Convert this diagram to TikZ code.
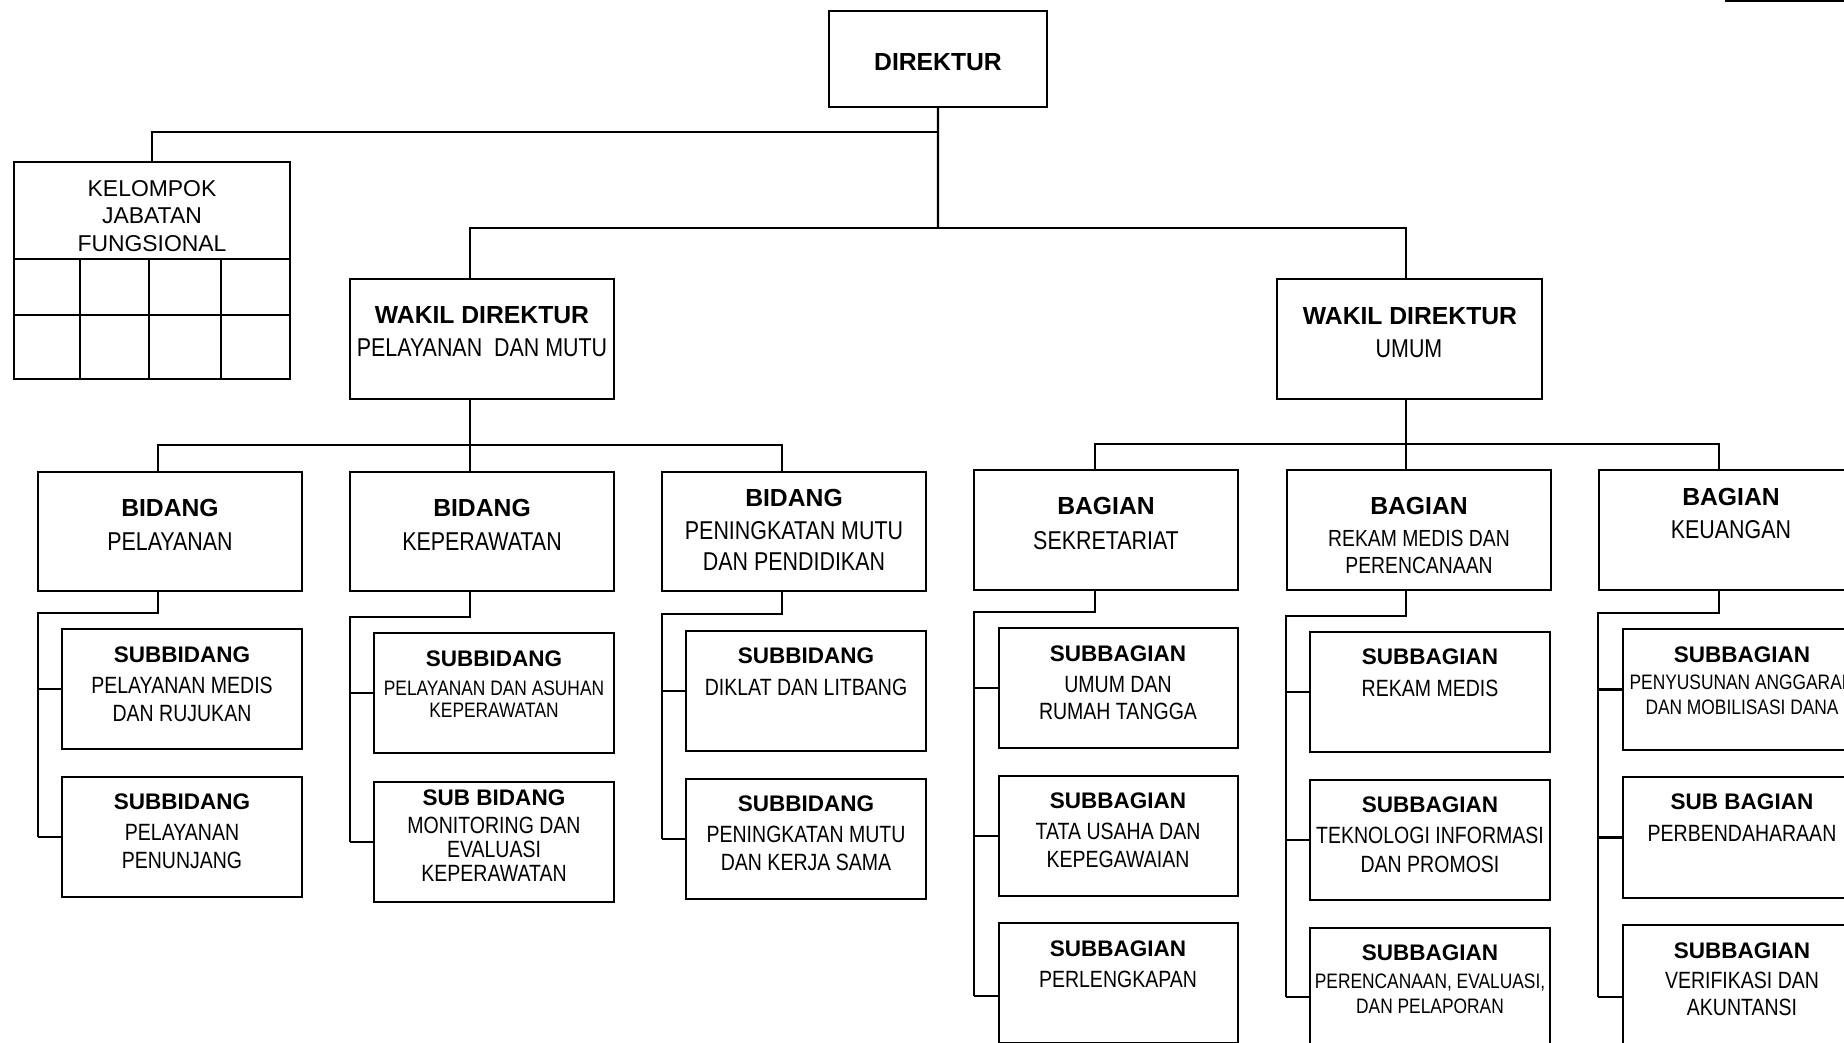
\documentclass[tikz,border=0pt]{standalone}
\usepackage{fontspec}
\setmainfont{Liberation Sans}
\newfontfamily\narrowf[FakeStretch=0.83]{Liberation Sans}
\usetikzlibrary{calc}
\tikzset{
  box/.style={draw, line width=2.2bp, inner sep=0pt, outer sep=0pt, rectangle},
  conn/.style={line width=2.2bp},
  hdA/.style={font=\bfseries\fontsize{24.8}{25}\selectfont, anchor=base, inner sep=0pt},
  hdB/.style={font=\bfseries\fontsize{22.6}{23}\selectfont, anchor=base, inner sep=0pt},
  nrA/.style={font=\narrowf\fontsize{25.9}{26}\selectfont, anchor=base, inner sep=0pt},
  nrB/.style={font=\narrowf\fontsize{23.6}{24}\selectfont, anchor=base, inner sep=0pt},
  nrR/.style={font=\narrowf\fontsize{23.4}{24}\selectfont, anchor=base, inner sep=0pt},
  nrC/.style={font=\narrowf\fontsize{21}{21}\selectfont, anchor=base, inner sep=0pt},
  kelt/.style={font=\fontsize{23}{23}\selectfont, anchor=base, inner sep=0pt},
}
\newcommand{\orgbox}[5]{\node[box, minimum width=#4bp, minimum height=#5bp, anchor=north west] (#1) at (#2,#3) {};}
\newcommand{\orgtxt}[5]{\node[#2] (#1) at (#3,#4) {#5};}
\begin{document}
\begin{tikzpicture}[x=1bp, y=-1bp]
\useasboundingbox (0,0) rectangle (1844,1042);
\clip (0,0) rectangle (1844,1042);

% ---------- boxes ----------
\orgbox{dir}{829}{11}{218}{96}
\orgbox{kel}{14}{162}{276}{217}
\orgbox{wdpm}{350}{279}{264}{120}
\orgbox{wdu}{1277}{279}{265}{120}

\orgbox{b1}{38}{472}{264}{119}
\orgbox{b2}{350}{472}{264}{119}
\orgbox{b3}{662}{472}{264}{119}
\orgbox{b4}{974}{470}{264}{120}
\orgbox{b5}{1287}{470}{264}{120}
\orgbox{b6}{1599}{470}{264}{120}

\orgbox{s11}{62}{629}{240}{120}
\orgbox{s12}{62}{777}{240}{120}
\orgbox{s21}{374}{633}{240}{120}
\orgbox{s22}{374}{782}{240}{120}
\orgbox{s31}{686}{631}{240}{120}
\orgbox{s32}{686}{779}{240}{120}
\orgbox{s41}{999}{628}{239}{120}
\orgbox{s42}{999}{776}{239}{120}
\orgbox{s43}{999}{923}{239}{120}
\orgbox{s51}{1310}{632}{240}{120}
\orgbox{s52}{1310}{780}{240}{120}
\orgbox{s53}{1310}{928}{240}{120}
\orgbox{s61}{1623}{629}{240}{121}
\orgbox{s62}{1623}{777}{240}{121}
\orgbox{s63}{1623}{925}{240}{121}

% Kelompok grid
\draw[conn] (kel.west |- 0,259) -- (kel.east |- 0,259);
\draw[conn] (kel.west |- 0,315) -- (kel.east |- 0,315);
\foreach \gx in {80,149,221} {\draw[conn] (\gx,259) -- (\gx,379);}

% ---------- top connectors ----------
\coordinate (jtop) at (938,228);
\coordinate (jkel) at (937,132);
\draw[conn] (dir.south) -- (jtop);
\draw[conn] (kel.north) |- (jkel);
\draw[conn] ($(wdpm.north west)+(120,0)$) |- (jtop) -| ($(wdu.north west)+(129,0)$);

% row connectors
\coordinate (hL) at (470,445);
\coordinate (hR) at (1406,444);
\draw[conn] ($(wdpm.south west)+(120,0)$) -- ($(b2.north west)+(120,0)$);
\draw[conn] ($(b1.north west)+(120,0)$) |- (hL) -| ($(b3.north west)+(120,0)$);
\draw[conn] ($(wdu.south west)+(129,0)$) -- ($(b5.north west)+(119,0)$);
\draw[conn] ($(b4.north west)+(121,0)$) |- (hR) -| ($(b6.north west)+(120,0)$);

% sub connectors column 1
\coordinate (v1) at (38,613);
\draw[conn] ($(b1.south west)+(120,0)$) |- (v1) -- (v1 |- s12.west);
\draw[conn] (v1 |- s11.west) -- (s11.west);
\draw[conn] (v1 |- s12.west) -- (s12.west);
% column 2
\coordinate (v2) at (350,617);
\draw[conn] ($(b2.south west)+(120,0)$) |- (v2) -- (v2 |- s22.west);
\draw[conn] (v2 |- s21.west) -- (s21.west);
\draw[conn] (v2 |- s22.west) -- (s22.west);
% column 3
\coordinate (v3) at (662,614);
\draw[conn] ($(b3.south west)+(120,0)$) |- (v3) -- (v3 |- s32.west);
\draw[conn] (v3 |- s31.west) -- (s31.west);
\draw[conn] (v3 |- s32.west) -- (s32.west);
% column 4
\coordinate (v4) at (974,612);
\coordinate (e4) at ($(s43.north west)+(0,73)$);
\draw[conn] ($(b4.south west)+(121,0)$) |- (v4) -- (v4 |- e4);
\draw[conn] (v4 |- s41.west) -- (s41.west);
\draw[conn] (v4 |- s42.west) -- (s42.west);
\draw[conn] (v4 |- e4) -- (e4);
% column 5
\coordinate (v5) at (1286,616);
\coordinate (e5) at ($(s53.north west)+(0,69)$);
\draw[conn] ($(b5.south west)+(119,0)$) |- (v5) -- (v5 |- e5);
\draw[conn] (v5 |- s51.west) -- (s51.west);
\draw[conn] (v5 |- s52.west) -- (s52.west);
\draw[conn] (v5 |- e5) -- (e5);
% column 6
\coordinate (v6) at (1598,613);
\coordinate (e6) at ($(s63.north west)+(0,72)$);
\draw[conn] ($(b6.south west)+(120,0)$) |- (v6) -- (v6 |- e6);
\draw[conn] (v6 |- s61.west) -- (s61.west);
\draw[conn] (v6 |- s62.west) -- (s62.west);
\draw[conn] (v6 |- e6) -- (e6);

% stray line at top right
\coordinate (tr1) at (1725,1);
\coordinate (tr2) at (1844,1);
\draw[conn] (tr1) -- (tr2);

% ---------- texts ----------
\orgtxt{tdir}{hdA}{938}{70}{DIREKTUR}
\orgtxt{tk1}{kelt}{152}{196}{KELOMPOK}
\orgtxt{tk2}{kelt}{152}{223}{JABATAN}
\orgtxt{tk3}{kelt}{152}{251}{FUNGSIONAL}

\orgtxt{tw1}{hdA}{482}{323}{WAKIL DIREKTUR}
\orgtxt{tw2}{nrA}{482}{356}{PELAYANAN\ \ DAN MUTU}
\orgtxt{tu1}{hdA}{1410}{324}{WAKIL DIREKTUR}
\orgtxt{tu2}{nrA}{1409}{357}{UMUM}

\orgtxt{tb11}{hdA}{170}{516}{BIDANG}
\orgtxt{tb12}{nrA}{170}{550}{PELAYANAN}
\orgtxt{tb21}{hdA}{482}{516}{BIDANG}
\orgtxt{tb22}{nrA}{482}{550}{KEPERAWATAN}
\orgtxt{tb31}{hdA}{794}{506}{BIDANG}
\orgtxt{tb32}{nrA}{794}{539}{PENINGKATAN MUTU}
\orgtxt{tb33}{nrA}{794}{570}{DAN PENDIDIKAN}
\orgtxt{tb41}{hdA}{1106}{514}{BAGIAN}
\orgtxt{tb42}{nrA}{1106}{549}{SEKRETARIAT}
\orgtxt{tb51}{hdA}{1419}{514}{BAGIAN}
\orgtxt{tb52}{nrR}{1419}{546}{REKAM MEDIS DAN}
\orgtxt{tb53}{nrR}{1419}{573}{PERENCANAAN}
\orgtxt{tb61}{hdA}{1731}{505}{BAGIAN}
\orgtxt{tb62}{nrA}{1731}{538}{KEUANGAN}

\orgtxt{t111}{hdB}{182}{662}{SUBBIDANG}
\orgtxt{t112}{nrB}{182}{693}{PELAYANAN MEDIS}
\orgtxt{t113}{nrB}{182}{721}{DAN RUJUKAN}
\orgtxt{t121}{hdB}{182}{809}{SUBBIDANG}
\orgtxt{t122}{nrB}{182}{840}{PELAYANAN}
\orgtxt{t123}{nrB}{182}{868}{PENUNJANG}

\orgtxt{t211}{hdB}{494}{666}{SUBBIDANG}
\orgtxt{t212}{nrC}{494}{695}{PELAYANAN DAN ASUHAN}
\orgtxt{t213}{nrC}{494}{717}{KEPERAWATAN}
\orgtxt{t221}{hdB}{494}{805}{SUB BIDANG}
\orgtxt{t222}{nrB}{494}{833}{MONITORING DAN}
\orgtxt{t223}{nrB}{494}{857}{EVALUASI}
\orgtxt{t224}{nrB}{494}{881}{KEPERAWATAN}

\orgtxt{t311}{hdB}{806}{663}{SUBBIDANG}
\orgtxt{t312}{nrB}{806}{695}{DIKLAT DAN LITBANG}
\orgtxt{t321}{hdB}{806}{811}{SUBBIDANG}
\orgtxt{t322}{nrB}{806}{842}{PENINGKATAN MUTU}
\orgtxt{t323}{nrB}{806}{870}{DAN KERJA SAMA}

\orgtxt{t411}{hdB}{1118}{661}{SUBBAGIAN}
\orgtxt{t412}{nrB}{1118}{692}{UMUM DAN}
\orgtxt{t413}{nrB}{1118}{719}{RUMAH TANGGA}
\orgtxt{t421}{hdB}{1118}{808}{SUBBAGIAN}
\orgtxt{t422}{nrB}{1118}{839}{TATA USAHA DAN}
\orgtxt{t423}{nrB}{1118}{867}{KEPEGAWAIAN}
\orgtxt{t431}{hdB}{1118}{956}{SUBBAGIAN}
\orgtxt{t432}{nrB}{1118}{987}{PERLENGKAPAN}

\orgtxt{t511}{hdB}{1430}{664}{SUBBAGIAN}
\orgtxt{t512}{nrB}{1430}{696}{REKAM MEDIS}
\orgtxt{t521}{hdB}{1430}{812}{SUBBAGIAN}
\orgtxt{t522}{nrB}{1430}{843}{TEKNOLOGI INFORMASI}
\orgtxt{t523}{nrB}{1430}{872}{DAN PROMOSI}
\orgtxt{t531}{hdB}{1430}{960}{SUBBAGIAN}
\orgtxt{t532}{nrC}{1430}{988}{PERENCANAAN, EVALUASI,}
\orgtxt{t533}{nrC}{1430}{1013}{DAN PELAPORAN}

\orgtxt{t611}{hdB}{1742}{662}{SUBBAGIAN}
\orgtxt{t612}{nrC}{1742}{689}{PENYUSUNAN ANGGARAN}
\orgtxt{t613}{nrC}{1742}{714}{DAN MOBILISASI DANA}
\orgtxt{t621}{hdB}{1742}{809}{SUB BAGIAN}
\orgtxt{t622}{nrB}{1742}{841}{PERBENDAHARAAN}
\orgtxt{t631}{hdB}{1742}{958}{SUBBAGIAN}
\orgtxt{t632}{nrB}{1742}{988}{VERIFIKASI DAN}
\orgtxt{t633}{nrB}{1742}{1015}{AKUNTANSI}
\end{tikzpicture}
\end{document}
